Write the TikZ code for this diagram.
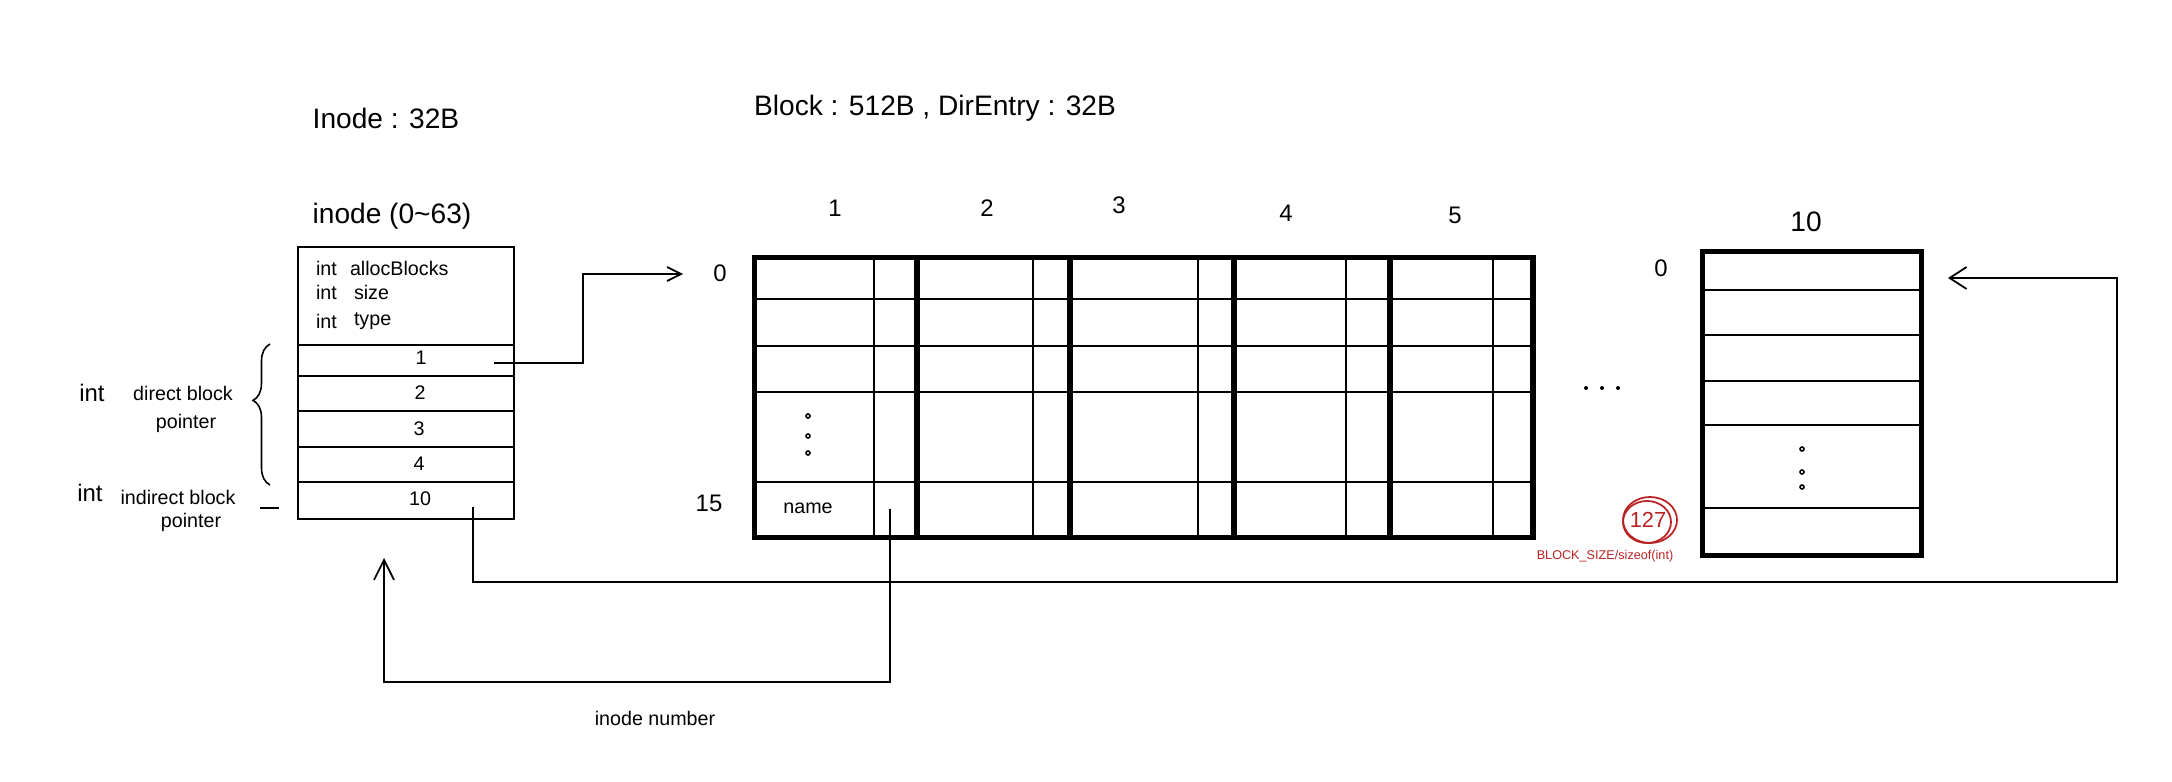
\documentclass[tikz,border=0pt]{standalone}
\usepackage{fontspec}
\setmainfont{Liberation Sans}
\usetikzlibrary{arrows.meta,decorations.pathreplacing}
\definecolor{redpen}{RGB}{185,35,35}
\begin{document}
\begin{tikzpicture}[x=0.01cm,y=-0.01cm,
  txt/.style={inner sep=0pt, outer sep=0pt},
  big/.style={txt, font=\fontsize{8}{9}\selectfont},
  mid/.style={txt, font=\fontsize{6.8}{8}\selectfont},
  sml/.style={txt, font=\fontsize{5.6}{7}\selectfont},
  ibox/.style={draw, line width=0.6pt, minimum width=2.16cm, inner sep=0pt, anchor=north west},
  thinl/.style={line width=0.45pt},
  boldl/.style={line width=1.45pt},
  conn/.style={line width=0.5pt}
]
\useasboundingbox (0,0) rectangle (2172,782);

% titles
\node[big] (t1) at (386,118) {Inode : 32B};
\node[big] (t2) at (935,108) {Block : 512B , DirEntry : 32B};
\node[big] (t3) at (392,216) {inode (0\textasciitilde63)};

% inode box
\node[ibox, minimum height=0.98cm] (ihdr) at (297,246) {};
\node[ibox, minimum height=0.31cm] (ir1) at (297,344) {};
\node[ibox, minimum height=0.35cm] (ir2) at (297,375) {};
\node[ibox, minimum height=0.36cm] (ir3) at (297,410) {};
\node[ibox, minimum height=0.35cm] (ir4) at (297,446) {};
\node[ibox, minimum height=0.37cm] (ir10) at (297,481) {};

\node[sml, anchor=west] (h1a) at (316,268) {int};
\node[sml, anchor=west] (h1b) at (350,268) {allocBlocks};
\node[sml, anchor=west] (h2a) at (316,292) {int};
\node[sml, anchor=west] (h2b) at (354,292) {size};
\node[sml, anchor=west] (h3a) at (316,321) {int};
\node[sml, anchor=west] (h3b) at (354,321) {type};

\node[sml] (n1) at (421,358) {1};
\node[sml] (n2) at (420,393) {2};
\node[sml] (n3) at (419,429) {3};
\node[sml] (n4) at (419,464) {4};
\node[sml] (n10) at (420,499) {10};

% left labels
\node[mid] (l1a) at (92,393) {int};
\node[sml] (l1b) at (183,393) {direct block};
\node[sml] (l1c) at (186,423) {pointer};
\node[mid] (l2a) at (90,493) {int};
\node[sml] (l2b) at (178,497) {indirect block};
\node[sml] (l2c) at (191,522) {pointer};
\draw[thinl, decorate, decoration={brace, amplitude=0.17cm, aspect=0.6}] (270,485) -- (270,344);
\draw[thinl] (260,508) -- (279,508);

% big table
\foreach \y in {299,346,392,482} \draw[thinl] (752,\y) -- (1530,\y);
\foreach \x in {874,1033,1198,1346,1493} \draw[thinl] (\x,255) -- (\x,535);
\foreach \x in {917,1070,1234,1390} \draw[boldl] (\x,255) -- (\x,535);
\node[draw, boldl, minimum width=7.78cm, minimum height=2.80cm, inner sep=0pt, anchor=north west] (tbl) at (752,255) {};

\node[mid] (c1) at (835,208) {1};
\node[mid] (c2) at (987,208) {2};
\node[mid] (c3) at (1119,205) {3};
\node[mid] (c4) at (1286,213) {4};
\node[mid] (c5) at (1455,215) {5};
\node[mid] (r0) at (720,273) {0};
\node[mid] (r15) at (709,503) {15};
\node[sml] (nm) at (808,508) {name};
\foreach \y in {416,436,453} \draw[thinl] (808,\y) circle[radius=0.02cm];

% dots between
\foreach \x in {1586,1602,1618} \fill (\x,388) circle[radius=0.02cm];

% block 10
\foreach \y in {290,335,381,425,508} \draw[thinl] (1700,\y) -- (1919,\y);
\node[draw, line width=1.3pt, minimum width=2.19cm, minimum height=3.04cm, inner sep=0pt, anchor=north west] (blk) at (1700,249) {};
\node[big] (b10) at (1806,222) {10};
\node[mid] (b0) at (1661,268) {0};
\foreach \y in {449,472,487} \draw[thinl] (1802,\y) circle[radius=0.02cm];

% 127 annotation
\node[txt, text=redpen, font=\fontsize{6.2}{7}\selectfont] (c127) at (1648,520) {127};
\draw[redpen, line width=0.5pt] ([xshift=0.02cm]c127.center) ellipse[x radius=0.27cm, y radius=0.23cm];
\draw[redpen, line width=0.5pt] ([xshift=-0.01cm,yshift=-0.02cm]c127.center) ellipse[x radius=0.24cm, y radius=0.21cm];
\node[txt, text=redpen, font=\fontsize{3.6}{4}\selectfont] (bs) at (1605,556) {BLOCK\_SIZE/sizeof(int)};

\node[sml] (inum) at (655,718) {inode number};

% connectors
\coordinate (p1) at (494,363);
\coordinate (t0) at (683,274);
\draw[conn, -{Straight Barb[length=1.4mm,width=1.4mm]}] (p1) -- (583,363) |- (t0);

\coordinate (pn) at (890,509);
\coordinate (inb) at (384,558);
\draw[conn, -{Straight Barb[length=2mm,width=2mm]}] (pn) |- (384,682) -- (inb);

\coordinate (p10) at (473,507);
\coordinate (bin) at (1948,278);
\draw[conn, -{Straight Barb[length=1.7mm,width=2.2mm]}] (p10) |- (2117,582) |- (bin);
\end{tikzpicture}
\end{document}
